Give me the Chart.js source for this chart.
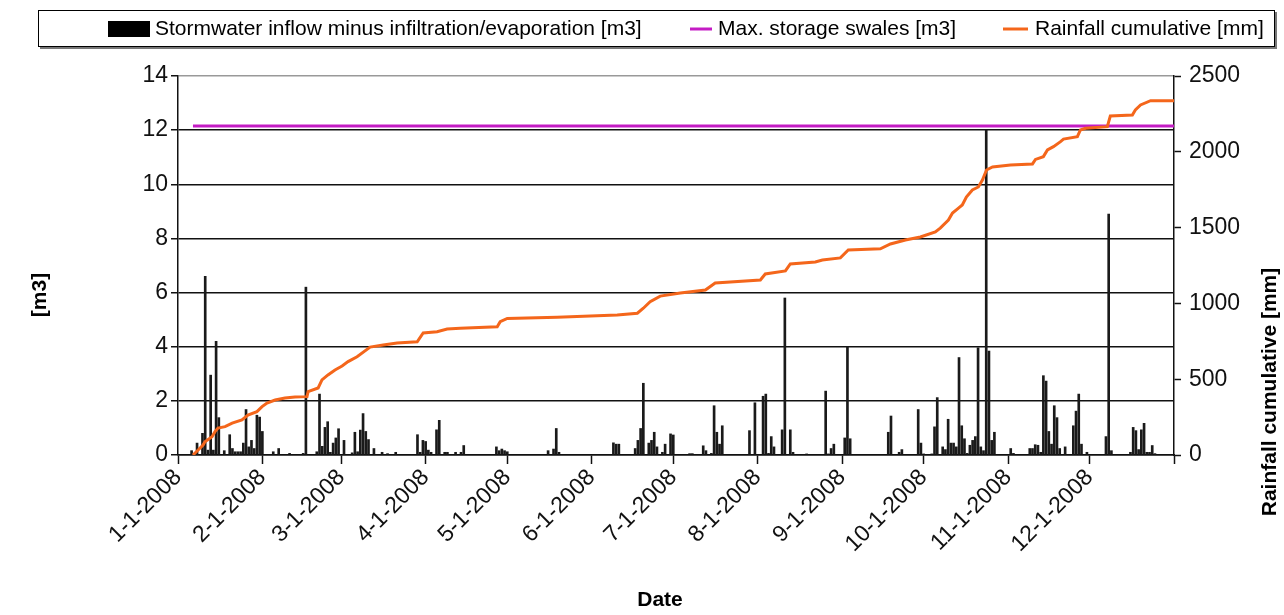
<!DOCTYPE html>
<html>
<head>
<meta charset="utf-8">
<script src="https://cdn.jsdelivr.net/npm/chart.js@4.4.1/dist/chart.umd.min.js"></script>
<style>
  html, body { margin: 0; padding: 0; background: #fff; }
</style>
</head>
<body>
<canvas id="chart" width="1284" height="615"></canvas>
<script>
// x positions are days since 1 Jan 2008
const monthDays   = [0, 31, 60, 91, 121, 152, 182, 213, 244, 274, 305, 335];
const monthLabels = ['1-1-2008', '2-1-2008', '3-1-2008', '4-1-2008', '5-1-2008', '6-1-2008',
                     '7-1-2008', '8-1-2008', '9-1-2008', '10-1-2008', '11-1-2008', '12-1-2008'];

// Stormwater inflow minus infiltration/evaporation [m3], per day
const inflowDays = [
  5, 7, 9, 10, 11, 12, 13, 14, 15, 17, 19, 20, 21, 22, 23, 24, 25, 26, 27, 28, 29, 30, 31, 35, 37, 41,
  46, 47, 51, 52, 53, 54, 55, 56, 57, 58, 59, 61, 64, 65, 66, 67, 68, 69, 70, 72, 75, 77, 80,
  88, 89, 90, 91, 92, 93, 95, 96, 98, 99, 102, 104, 105, 117, 118, 119, 120, 121, 136, 138, 139, 140,
  160, 161, 162, 168, 169, 170, 171, 173, 174, 175, 176, 178, 179, 181, 182, 188, 189,
  193, 194, 196, 197, 198, 199, 200, 210, 212, 215, 216, 217, 218, 219, 222, 223, 225, 226, 231,
  238, 239, 240, 241, 245, 246, 247, 261, 262, 265, 266, 272, 273, 274, 277, 278, 279,
  281, 282, 283, 284, 285, 286, 287, 288, 289, 290, 291, 292, 293, 294, 295, 296, 297, 298, 299, 300,
  306, 307, 313, 314, 315, 316, 317, 318, 319, 320, 321, 322, 323, 324, 326, 329, 330, 331, 332, 334,
  341, 342, 343, 350, 351, 352, 353, 354, 355, 356, 357, 358, 359
];
const inflowValues = [
  0.16, 0.44, 0.8, 6.6, 0.18, 2.95, 0.18, 4.2, 1.38, 0.16, 0.75, 0.24, 0.12, 0.12, 0.12, 0.44, 1.68, 0.3, 0.54, 0.24, 1.47, 1.4, 0.87, 0.12, 0.24, 0.06,
  0.06, 6.2, 0.12, 2.25, 0.32, 1.02, 1.23, 0.1, 0.44, 0.63, 0.97, 0.54, 0.08, 0.84, 0.12, 0.92, 1.53, 0.87, 0.57, 0.24, 0.1, 0.05, 0.1,
  0.75, 0.1, 0.54, 0.5, 0.18, 0.1, 0.93, 1.28, 0.1, 0.1, 0.1, 0.1, 0.35, 0.3, 0.16, 0.22, 0.16, 0.12, 0.16, 0.22, 0.98, 0.1,
  0.45, 0.4, 0.4, 0.24, 0.54, 0.98, 2.65, 0.44, 0.54, 0.84, 0.3, 0.1, 0.4, 0.78, 0.74, 0.05, 0.05,
  0.34, 0.16, 0.06, 1.82, 0.84, 0.4, 1.08, 0.9, 1.93, 2.17, 2.25, 0.06, 0.68, 0.3, 0.93, 5.8, 0.93, 0.1, 0.04,
  2.36, 0.04, 0.24, 0.4, 0.63, 4.0, 0.6, 0.84, 1.44, 0.1, 0.2, 1.68, 0.44, 0.04, 0.04, 1.04, 2.12,
  0.3, 0.2, 1.32, 0.44, 0.44, 0.3, 3.6, 1.08, 0.6, 0.06, 0.36, 0.54, 0.68, 3.96, 0.3, 0.16, 12.0, 3.84, 0.54, 0.84,
  0.24, 0.06, 0.24, 0.24, 0.38, 0.36, 0.1, 2.93, 2.73, 0.87, 0.4, 1.82, 1.38, 0.24, 0.3, 1.08, 1.62, 2.25, 0.4, 0.1,
  0.68, 8.9, 0.16, 0.1, 1.02, 0.9, 0.2, 0.93, 1.17, 0.1, 0.1, 0.35, 0.05
];

// Max. storage swales [m3]
const storageDays   = [5.5, 366];
const storageValues = [12.15, 12.15];

// Rainfall cumulative [mm]
const rainDays = [
  5.5, 7.4, 9.2, 9.9, 12.5, 13.6, 14.7, 17.3, 19.9, 23.5, 25.7, 29, 30.9, 32.7, 35.7, 39.3, 43, 47.4, 47.8,
  51.5, 52.9, 55.1, 57.7, 60.3, 62.5, 65.8, 70.6, 75.4, 80.5, 87.9, 90.1, 95.2, 98.9, 103.7, 117.3, 118.4,
  121, 139.3, 161.4, 168.8, 171, 173.5, 177.2, 184.6, 193.8, 197.4, 214, 215.8, 223.2, 225, 234.2, 236.8,
  243.4, 246.3, 258.1, 261.8, 267.3, 272.8, 278.3, 280.1, 283.1, 284.6, 286.8, 288.2, 289.7, 291.9, 294.1,
  295.6, 297.1, 299.3, 305.9, 314, 315.1, 318, 319.5, 321.7, 324.3, 325.4, 330.5, 331.6, 333.5, 341.5,
  342.6, 350.7, 351.8, 353.7, 357.4, 366
];
const rainCum = [
  0, 33, 66, 88, 121, 154, 178, 187, 210, 231, 264, 286, 319, 343, 363, 376, 383, 385, 418,
  442, 495, 528, 561, 587, 616, 648, 712, 726, 739, 747, 805, 813, 831, 836, 846, 879,
  901, 908, 923, 935, 968, 1011, 1048, 1069, 1088, 1135, 1154, 1194, 1214, 1260, 1273, 1286,
  1300, 1352, 1360, 1392, 1418, 1438, 1471, 1497, 1550, 1596, 1629, 1649, 1702, 1748, 1768,
  1814, 1880, 1900, 1913, 1920, 1950, 1968, 2012, 2034, 2067, 2084, 2100, 2144, 2155, 2166,
  2236, 2243, 2276, 2309, 2337, 2337
];

const pts = (xs, ys) => xs.map((x, i) => ({ x, y: ys[i] }));

const FONT = "'Liberation Sans', Arial, sans-serif";

// Boxed legend and axis titles, positioned like the original spreadsheet chart
const decorations = {
  id: 'decorations',
  afterDraw(chart) {
    const ctx = chart.ctx;
    const ds = chart.data.datasets;
    ctx.save();

    // legend frame
    ctx.fillStyle = '#777';
    ctx.fillRect(40, 47, 1237, 2);
    ctx.fillRect(1275, 12, 2, 37);
    ctx.strokeStyle = '#000';
    ctx.lineWidth = 1;
    ctx.strokeRect(38.5, 10.5, 1236, 36);

    ctx.font = `21px ${FONT}`;
    ctx.textBaseline = 'middle';
    ctx.fillStyle = '#000';
    const cy = 29;

    ctx.fillRect(108, 21, 42, 16);
    ctx.fillText(ds[0].label, 155, cy);

    ctx.strokeStyle = ds[1].borderColor;
    ctx.lineWidth = 3;
    ctx.beginPath(); ctx.moveTo(690, cy); ctx.lineTo(712, cy); ctx.stroke();
    ctx.fillText(ds[1].label, 718, cy);

    ctx.strokeStyle = ds[2].borderColor;
    ctx.beginPath(); ctx.moveTo(1003, cy); ctx.lineTo(1028, cy); ctx.stroke();
    ctx.fillText(ds[2].label, 1035, cy);

    // axis titles
    ctx.font = `bold 21px ${FONT}`;
    ctx.textAlign = 'center';
    ctx.fillText('Date', 660, 600);

    ctx.save();
    ctx.translate(40, 295);
    ctx.rotate(-Math.PI / 2);
    ctx.fillText('[m3]', 0, 0);
    ctx.restore();

    ctx.save();
    ctx.translate(1270, 392);
    ctx.rotate(-Math.PI / 2);
    ctx.fillText('Rainfall cumulative [mm]', 0, 0);
    ctx.restore();

    ctx.restore();
  }
};

new Chart(document.getElementById('chart'), {
  data: {
    datasets: [
      {
        type: 'bar',
        label: 'Stormwater inflow minus infiltration/evaporation [m3]',
        data: pts(inflowDays, inflowValues),
        backgroundColor: '#1a1a1a',
        barThickness: 2,
        grouped: false,
        yAxisID: 'y',
        order: 3,
      },
      {
        type: 'line',
        label: 'Max. storage swales [m3]',
        data: pts(storageDays, storageValues),
        borderColor: '#c41cc4',
        borderWidth: 3,
        pointRadius: 0,
        yAxisID: 'y',
        order: 2,
      },
      {
        type: 'line',
        label: 'Rainfall cumulative [mm]',
        data: pts(rainDays, rainCum),
        borderColor: '#f4661b',
        borderWidth: 3,
        pointRadius: 0,
        tension: 0,
        yAxisID: 'y2',
        order: 1,
      },
    ],
  },
  options: {
    responsive: false,
    animation: false,
    layout: { padding: { top: 76, left: 0, right: 0, bottom: 0 } },
    plugins: {
      legend:  { display: false },
      tooltip: { enabled: false },
    },
    scales: {
      x: {
        type: 'linear',
        min: 0,
        max: 366,
        offset: false,
        afterBuildTicks: scale => {
          scale.ticks = monthDays.concat([366]).map(value => ({ value }));
        },
        afterFit: scale => { scale.height = 160; },
        grid: {
          offset: false,
          drawOnChartArea: false,
          tickLength: 9,
          tickColor: '#111',
          tickWidth: 1.5,
        },
        border: { color: '#111', width: 1.5 },
        ticks: {
          autoSkip: false,
          minRotation: 45,
          maxRotation: 45,
          padding: 0,
          color: '#111',
          font: { size: 23, family: FONT },
          callback: (v) => {
            const i = monthDays.indexOf(v);
            return i >= 0 ? monthLabels[i] : '';
          },
        },
      },
      y: {
        position: 'left',
        min: 0,
        max: 14,
        afterFit: scale => { scale.width = 178; },
        ticks: {
          stepSize: 2,
          padding: 3,
          color: '#111',
          font: { size: 23, family: FONT },
        },
        grid: {
          color: ctx => ctx.tick && ctx.tick.value === 14 ? '#999' : '#111',
          lineWidth: 1.5,
          tickLength: 7,
          tickColor: '#111',
        },
        border: { color: '#111', width: 1.5 },
      },
      y2: {
        position: 'right',
        min: 0,
        max: 2500,
        afterFit: scale => { scale.width = 110; },
        ticks: {
          stepSize: 500,
          padding: 8,
          color: '#111',
          font: { size: 23, family: FONT },
          callback: v => String(v),
        },
        grid: {
          drawOnChartArea: false,
          tickLength: 7,
          tickColor: '#111',
          tickWidth: 1.5,
        },
        border: { color: '#111', width: 1.5 },
      },
    },
  },
  plugins: [decorations],
});
</script>
</body>
</html>
